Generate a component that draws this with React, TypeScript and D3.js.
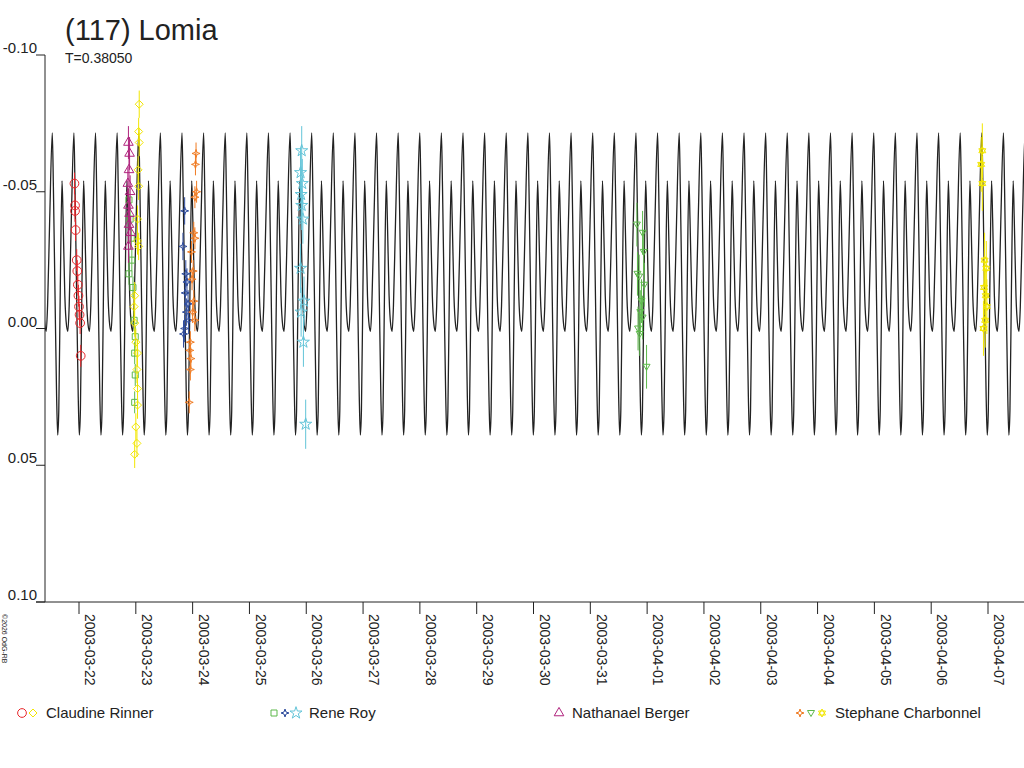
import { useEffect, useRef } from 'react';
import * as d3 from 'd3';

const title = '(117) Lomia';
const periodLabel = 'T=0.38050';
const period = 0.3805;
const firstMax = -0.47;

// one cycle of the fitted light curve: [phase, mag]
const curvePhase = [0, 0.05, 0.13, 0.2, 0.25, 0.3, 0.37, 0.45, 0.5, 0.58, 0.66, 0.72, 0.78, 0.88, 1];
const curveMag = [-0.0715, -0.052, -0.01, 0.025, 0.039, 0.03, -0.015, -0.054, -0.04, -0.012, -0.001, 0.001, -0.008, -0.04, -0.0715];

const yTicks = [-0.1, -0.05, 0, 0.05, 0.1];
const dateLabels = ['2003-03-22', '2003-03-23', '2003-03-24', '2003-03-25', '2003-03-26', '2003-03-27', '2003-03-28', '2003-03-29', '2003-03-30', '2003-03-31', '2003-04-01', '2003-04-02', '2003-04-03', '2003-04-04', '2003-04-05', '2003-04-06', '2003-04-07'];

const redCircles = [[-0.08, -0.053], [-0.07, -0.045], [-0.07, -0.043], [-0.06, -0.036], [-0.04, -0.025], [-0.03, -0.021], [-0.02, -0.016], [-0.01, -0.012], [0, -0.008], [0.01, -0.005], [0.02, -0.002], [0.03, 0.01]];
const yellowDiamonds = [[1.06, -0.082], [1.05, -0.072], [1.06, -0.068], [1.04, -0.058], [1.05, -0.052], [1.03, -0.04], [1.05, -0.03], [1.03, -0.032], [0.98, -0.012], [0.97, -0.008], [0.98, -0.002], [1.0, 0.005], [1.03, 0.009], [1.02, 0.015], [1.03, 0.022], [1.03, 0.028], [1.0, 0.036], [1.02, 0.042], [0.98, 0.046]];
const greenSquares = [[0.88, -0.047], [0.9, -0.04], [0.92, -0.033], [0.93, -0.025], [0.88, -0.02], [0.95, -0.015], [0.97, -0.003], [0.99, 0.003], [0.98, 0.009], [0.99, 0.017], [0.98, 0.027]];
const magentaTriangles = [[0.87, -0.068], [0.89, -0.064], [0.88, -0.058], [0.86, -0.053], [0.9, -0.05], [0.87, -0.045], [0.89, -0.042], [0.88, -0.038], [0.91, -0.035], [0.87, -0.03]];
const blueStars = [[1.86, -0.043], [1.83, -0.03], [1.88, -0.02], [1.9, -0.017], [1.87, -0.013], [1.92, -0.009], [1.89, -0.006], [1.93, -0.003], [1.86, 0.0], [1.84, 0.002]];
const orangeStars = [[2.06, -0.064], [2.05, -0.06], [2.07, -0.05], [2.04, -0.048], [2.02, -0.035], [2.04, -0.033], [1.98, -0.028], [2.01, -0.021], [1.99, -0.018], [2.02, -0.01], [2.0, -0.006], [2.04, -0.003], [1.96, 0.005], [1.95, 0.008], [1.97, 0.011], [1.96, 0.015], [1.94, 0.027]];
const cyanStars = [[3.92, -0.065], [3.9, -0.057], [3.93, -0.053], [3.91, -0.049], [3.92, -0.045], [3.94, -0.04], [3.9, -0.022], [3.96, -0.01], [3.91, -0.006], [3.95, 0.005], [3.99, 0.035]];
const greenDown = [[9.82, -0.038], [9.92, -0.035], [9.94, -0.028], [9.83, -0.02], [9.86, -0.019], [9.95, -0.016], [9.9, -0.01], [9.88, -0.006], [9.92, -0.004], [9.84, 0.0], [9.87, 0.002], [9.99, 0.014]];
const yellowHex = [[15.9, -0.065], [15.88, -0.06], [15.9, -0.053], [15.94, -0.025], [15.97, -0.022], [15.93, -0.015], [15.96, -0.012], [15.98, -0.008], [15.95, -0.003], [15.92, 0.0]];

const star4 = 'M0,-4L1,-1L4,0L1,1L0,4L-1,1L-4,0L-1,-1Z';
const star6 = 'M0,-4L3.5,2L-3.5,2Z M0,4L3.5,-2L-3.5,-2Z';
const sym = (t: d3.SymbolType, s: number) => d3.symbol(t, s)() || '';
const shapes: Record<string, string> = {
  circle: sym(d3.symbolCircle, 60),
  diamond: 'M0,-4L4,0L0,4L-4,0Z',
  square: sym(d3.symbolSquare, 36),
  star: sym(d3.symbolStar, 45),
  triangle: sym(d3.symbolTriangle, 40),
  down: 'M-3.5,-2.5L3.5,-2.5L0,3.5Z',
  star4,
  star6,
};

const series = [
  { pts: redCircles, color: '#e8272b', shape: 'circle', err: 0.004 },
  { pts: greenSquares, color: '#5cb84a', shape: 'square', err: 0.004 },
  { pts: magentaTriangles, color: '#b0237d', shape: 'triangle', err: 0.006 },
  { pts: yellowDiamonds, color: '#f2e600', shape: 'diamond', err: 0.005 },
  { pts: blueStars, color: '#2c4a9c', shape: 'star4', err: 0.005 },
  { pts: orangeStars, color: '#f07b22', shape: 'star4', err: 0.004 },
  { pts: cyanStars, color: '#62c4d8', shape: 'star', err: 0.009 },
  { pts: greenDown, color: '#5cb84a', shape: 'down', err: 0.008 },
  { pts: yellowHex, color: '#f2e600', shape: 'star6', err: 0.01 },
];

const legend = [
  { name: 'Claudine Rinner', marks: [['circle', '#e8272b'], ['diamond', '#f2e600']] },
  { name: 'Rene Roy', marks: [['square', '#5cb84a'], ['star4', '#2c4a9c'], ['star', '#62c4d8']] },
  { name: 'Nathanael Berger', marks: [['triangle', '#b0237d']] },
  { name: 'Stephane Charbonnel', marks: [['star4', '#f07b22'], ['down', '#5cb84a'], ['star6', '#f2e600']] },
];

export default function App() {
  const ref = useRef<SVGSVGElement>(null);
  useEffect(() => {
    const svg = d3.select(ref.current);
    svg.selectAll('*').remove();
    const font = 'Liberation Sans, Arial, sans-serif';
    const x = d3.scaleLinear().domain([0, 16]).range([79, 988]);
    const y = d3.scaleLinear().domain([-0.1, 0.1]).range([55, 602]);
    const [t0, t1] = [x.invert(45), x.invert(1024)];

    svg.append('text').attr('x', 65).attr('y', 40).attr('font-size', 29).attr('font-family', font).attr('fill', '#222').text(title);
    svg.append('text').attr('x', 65).attr('y', 63).attr('font-size', 14).attr('font-family', font).attr('fill', '#222').text(periodLabel);

    // light curve
    const pts: [number, number][] = [];
    const n0 = Math.floor((t0 - firstMax) / period) - 1;
    const n1 = Math.ceil((t1 - firstMax) / period) + 1;
    for (let c = n0; c <= n1; c++) {
      curvePhase.forEach((p, i) => {
        if (i === curvePhase.length - 1) return;
        pts.push([firstMax + (c + p) * period, curveMag[i]]);
      });
    }
    svg.append('defs').append('clipPath').attr('id', 'clip').append('rect').attr('x', 45).attr('y', 0).attr('width', 979).attr('height', 602);
    svg.append('path')
      .attr('clip-path', 'url(#clip)')
      .attr('d', d3.line<[number, number]>().x(d => x(d[0])).y(d => y(d[1])).curve(d3.curveMonotoneX)(pts) || '')
      .attr('fill', 'none').attr('stroke', '#222').attr('stroke-width', 1.3);

    // observations
    series.forEach(s => {
      const g = svg.append('g');
      s.pts.forEach(([t, m]) => {
        g.append('line').attr('x1', x(t)).attr('x2', x(t)).attr('y1', y(m - s.err)).attr('y2', y(m + s.err))
          .attr('stroke', s.color).attr('stroke-width', 1);
        g.append('path').attr('d', shapes[s.shape]).attr('transform', `translate(${x(t)},${y(m)})`)
          .attr('fill', 'none').attr('stroke', s.color).attr('stroke-width', 1);
      });
    });

    // axes
    svg.append('line').attr('x1', 45).attr('x2', 45).attr('y1', 55).attr('y2', 602).attr('stroke', '#222');
    svg.append('line').attr('x1', 36).attr('x2', 1024).attr('y1', 602).attr('y2', 602).attr('stroke', '#222');
    yTicks.forEach(v => {
      svg.append('line').attr('x1', 36).attr('x2', 45).attr('y1', y(v)).attr('y2', y(v)).attr('stroke', '#222');
      svg.append('text').attr('x', 37).attr('y', y(v) - 2).attr('text-anchor', 'end').attr('font-size', 15)
        .attr('font-family', font).attr('fill', '#222').text(v === 0 ? '0.00' : d3.format('.2f')(v).replace('−', '-'));
    });
    dateLabels.forEach((d, i) => {
      const px = x(i);
      svg.append('line').attr('x1', px).attr('x2', px).attr('y1', 602).attr('y2', 614).attr('stroke', '#222');
      svg.append('text').attr('transform', `translate(${px + 2},614) rotate(90)`).attr('font-size', 14)
        .attr('dy', '-0.3em').attr('font-family', font).attr('fill', '#222').text(d);
    });
    svg.append('text').attr('transform', 'translate(2,614) rotate(90)').attr('font-size', 7)
      .attr('font-family', font).attr('fill', '#222').text('©2026 OdG-RB');

    // legend
    const lx = [22, 274, 559, 800];
    legend.forEach((l, i) => {
      l.marks.forEach(([sh, col], j) => {
        svg.append('path').attr('d', shapes[sh]).attr('transform', `translate(${lx[i] + j * 11},713)`)
          .attr('fill', 'none').attr('stroke', col);
      });
      svg.append('text').attr('x', lx[i] + l.marks.length * 11 + 2).attr('y', 718).attr('font-size', 15)
        .attr('font-family', font).attr('fill', '#222').text(l.name);
    });
  }, []);
  return <svg ref={ref} width={1024} height={768} style={{ position: 'absolute', left: 0, top: 0, background: '#fff' }} />;
}
